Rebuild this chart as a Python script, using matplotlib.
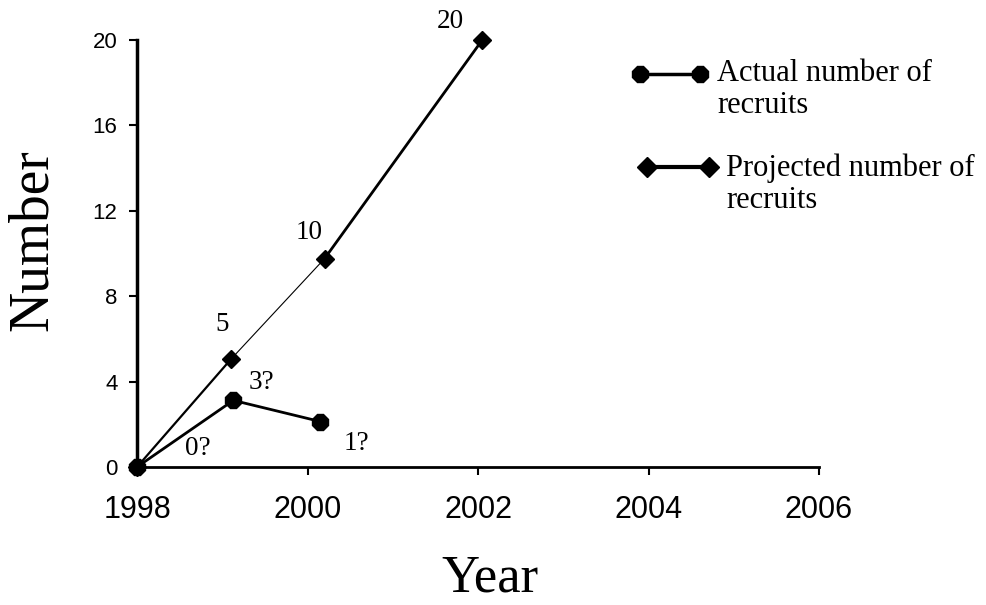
import matplotlib
matplotlib.use("Agg")
import matplotlib.pyplot as plt
from matplotlib.lines import Line2D

# ---- data ----
actual_years = [1998.0, 1999.13, 2000.15]
actual_values = [0.0, 3.12, 2.13]
actual_labels = ["0?", "3?", "1?"]

projected_years = [1998.0, 1999.1, 2000.2, 2002.05]
projected_values = [0.0, 5.04, 9.76, 20.0]
projected_labels = ["", "5", "10", "20"]

x_ticks = [1998, 2000, 2002, 2004, 2006]
y_ticks = [0, 4, 8, 12, 16, 20]

legend_labels = ["Actual number of\nrecruits", "Projected number of\nrecruits"]

# ---- styles ----
serif = "Liberation Serif"
sans = "Liberation Sans"
proj_seg_lw = [1.6, 0.8, 2.0]
actual_offsets = [(44, 13), (20, 13), (26, -16)]   # points
proj_offsets = [(0, 0), (-6, 25), (-11, 19), (-23, 13)]

fig = plt.figure(figsize=(9.87, 6.05), dpi=100)
ax = fig.add_axes([137 / 987, 1 - 467 / 605, (819 - 137) / 987, (467 - 40) / 605])

# projected line, segment-wise widths
for i in range(len(projected_years) - 1):
    ax.plot(projected_years[i:i + 2], projected_values[i:i + 2], color="black",
            lw=proj_seg_lw[i], solid_capstyle="round", clip_on=False, zorder=3)
ax.plot(projected_years, projected_values, ls="none", marker="D", ms=9,
        color="black", clip_on=False, zorder=4)

# actual line
ax.plot(actual_years, actual_values, color="black", lw=2.0, marker="8", ms=13,
        clip_on=False, zorder=5)

for xv, yv, lab, off in zip(projected_years, projected_values, projected_labels, proj_offsets):
    if lab:
        ax.annotate(lab, (xv, yv), xytext=off, textcoords="offset points",
                    ha="center", va="center", fontsize=19.5, family=serif)
for xv, yv, lab, off in zip(actual_years, actual_values, actual_labels, actual_offsets):
    ax.annotate(lab, (xv, yv), xytext=off, textcoords="offset points",
                ha="center", va="center", fontsize=19.5, family=serif)

ax.set_xlim(x_ticks[0], x_ticks[-1])
ax.set_ylim(y_ticks[0], y_ticks[-1])
ax.set_xticks(x_ticks)
ax.set_yticks(y_ticks)
ax.set_xticklabels([str(t) for t in x_ticks], fontsize=22, family=sans)
ax.set_yticklabels([str(t) for t in y_ticks], fontsize=16, family=sans)
ax.tick_params(axis="x", direction="out", length=6, width=1.5, pad=14)
ax.tick_params(axis="y", direction="out", length=6, width=1.5, pad=8)

for s in ["top", "right"]:
    ax.spines[s].set_visible(False)
ax.spines["left"].set_linewidth(2.5)
ax.spines["bottom"].set_linewidth(2.0)

ax.set_xlabel("Year", fontsize=38, family=serif)
ax.xaxis.label.set_va("baseline")
ax.xaxis.set_label_coords((490 - 137) / 682, (467 - 591) / 427)
ax.set_ylabel("Number", fontsize=40, family=serif)
ax.yaxis.label.set_va("center")
ax.yaxis.set_label_coords((33 - 137) / 682, (467 - 240) / 427)

# ---- legend (manual) ----
W, H = 987.0, 605.0
fig.add_artist(Line2D([640 / W, 700 / W], [1 - 74 / H] * 2, transform=fig.transFigure,
                      color="black", lw=2.5, marker="8", ms=13))
fig.add_artist(Line2D([647 / W, 709 / W], [1 - 167 / H] * 2, transform=fig.transFigure,
                      color="black", lw=3.0, marker="D", ms=10))
fig.text(717 / W, 1 - 113 / H, legend_labels[0], fontsize=22, family=serif,
         ha="left", va="baseline", linespacing=1.15)
fig.text(726 / W, 1 - 208 / H, legend_labels[1], fontsize=22, family=serif,
         ha="left", va="baseline", linespacing=1.15)

fig.savefig("out.png", dpi=100)
